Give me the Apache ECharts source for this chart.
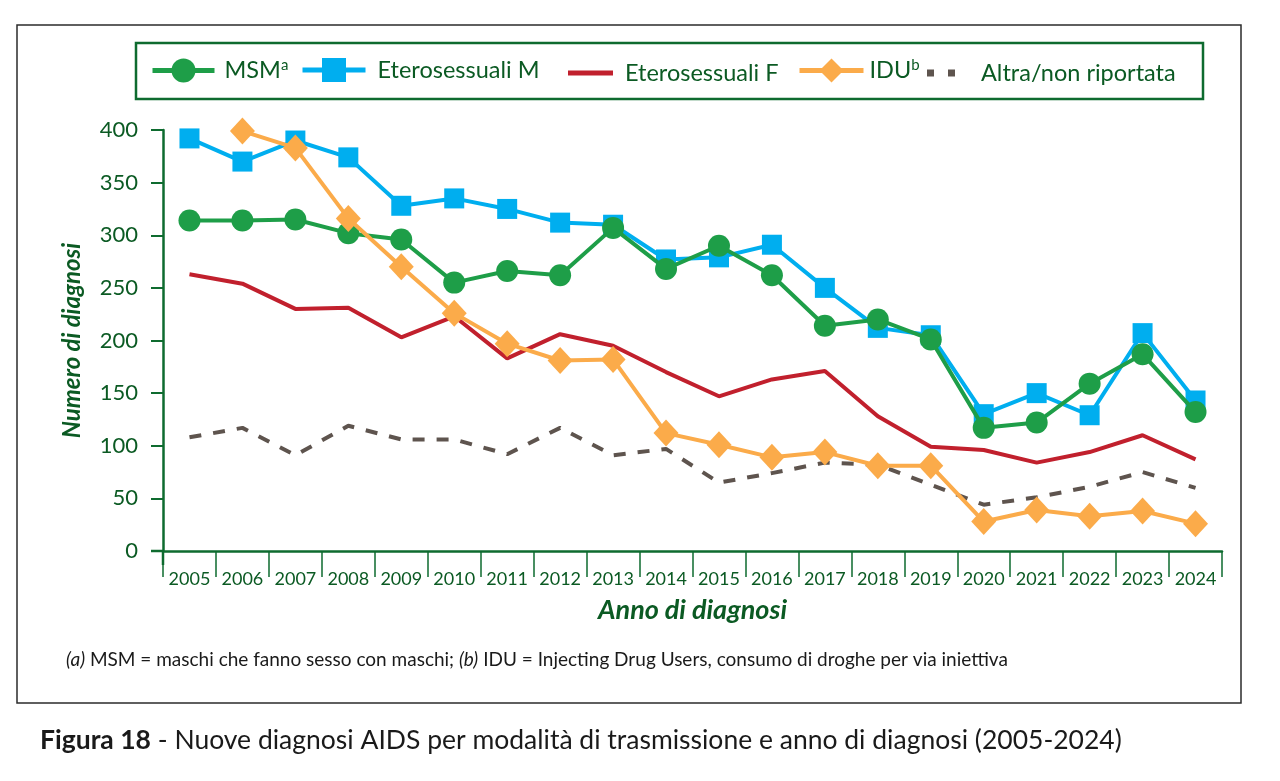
<!DOCTYPE html>
<html>
<head>
<meta charset="utf-8">
<script src="https://cdn.jsdelivr.net/npm/echarts@6/dist/echarts.min.js"></script>
<style>
html,body{margin:0;padding:0;background:#fff;}
#chart{width:1280px;height:781px;}
</style>
</head>
<body>
<div id="chart"></div>
<script>
const years = ['2005','2006','2007','2008','2009','2010','2011','2012','2013','2014','2015','2016','2017','2018','2019','2020','2021','2022','2023','2024'];
const msm = [314, 314, 315, 302, 296, 255, 266, 262, 307, 268, 290, 262, 214, 220, 201, 117, 122, 159, 187, 132];
const eteroM = [392, 370, 390, 374, 328, 335, 325, 312, 310, 277, 279, 291, 250, 212, 205, 130, 150, 129, 207, 143];
const eteroF = [263, 254, 230, 231, 203, 223, 183, 206, 195, 170, 147, 163, 171, 128, 99, 96, 84, 94, 110, 87];
const idu = [null, 399, 383, 316, 270, 226, 197, 181, 182, 112, 101, 89, 94, 81, 81, 28, 39, 33, 38, 26];
const altra = [108, 117, 91, 119, 106, 106, 92, 117, 91, 97, 65, 74, 84, 82, 63, 44, 51, 61, 75, 60];
const yTicks = [0, 50, 100, 150, 200, 250, 300, 350, 400];

const GREEN_TXT = '#0b5a23';
const AXIS = '#0e6b2f';
const C_MSM = '#1e9e48', C_M = '#00aeef', C_F = '#c1202d', C_IDU = '#fbab4a', C_ALT = '#5e544e';
const FONT = 'Lato, "Open Sans", sans-serif';

const chart = echarts.init(document.getElementById('chart'), null, {renderer: 'canvas'});

const legendBase = {
  top: 53, itemHeight: 30, orient: 'horizontal', selectedMode: false,
  lineStyle: {width: 5},
  textStyle: {fontFamily: FONT, fontSize: 23.5, color: GREEN_TXT,
    rich: {s: {fontFamily: FONT, fontSize: 15, color: GREEN_TXT, padding: [0, 0, 10, 0]}, n: {fontFamily: FONT, fontSize: 23.5, color: GREEN_TXT}}}
};
function leg(name, left, w, pad, extra, more) {
  const l = Object.assign({}, legendBase, {left: left - 5, itemWidth: w, data: [Object.assign({name: name}, extra || {})]}, more || {});
  l.textStyle = Object.assign({}, legendBase.textStyle, {padding: [0, 0, 0, pad]});
  return l;
}

const option = {
  animation: false,
  backgroundColor: '#fff',
  grid: {left: 163, right: 58, top: 130, bottom: 230, containLabel: false},
  legend: [
    leg('MSM', 150, 62, 5, null, {formatter: '{n|MSM}{s|a}'}),
    leg('Eterosessuali M', 300, 63, 7),
    leg('Eterosessuali F', 568, 45, 7, {icon: 'rect', itemStyle: {color: C_F}}, {itemHeight: 5, top: 56}),
    leg('IDU', 797, 64, 1, null, {formatter: '{n|IDU}{s|b}'}),
    leg('Altra/non riportata', 927, 42, 14, {icon: 'path://M0,0h8v8h-8z M24,0h8v8h-8z', itemStyle: {color: C_ALT}}, {itemHeight: 7, top: 56})
  ],
  xAxis: {
    type: 'category', data: years, boundaryGap: true,
    name: 'Anno di diagnosi', nameLocation: 'middle', nameGap: 46,
    nameTextStyle: {fontFamily: FONT, fontSize: 27, fontWeight: 'bold', fontStyle: 'italic', color: GREEN_TXT},
    axisLine: {lineStyle: {color: AXIS, width: 2.5}},
    axisTick: {show: true, interval: 0, length: 26, lineStyle: {color: AXIS, width: 1.5}},
    axisLabel: {interval: 0, fontFamily: FONT, fontSize: 18, color: GREEN_TXT, margin: 19},
    splitLine: {show: false}
  },
  yAxis: {
    type: 'value', min: 0, max: 400, interval: 50,
    name: 'Numero di diagnosi', nameLocation: 'middle', nameGap: 79, nameRotate: 90,
    nameTextStyle: {fontFamily: FONT, fontSize: 24, fontWeight: 'bold', fontStyle: 'italic', color: GREEN_TXT},
    axisLine: {show: true, lineStyle: {color: AXIS, width: 2.5}},
    axisTick: {show: true, length: 12, lineStyle: {color: AXIS, width: 2}},
    axisLabel: {fontFamily: FONT, fontSize: 22, color: GREEN_TXT, margin: 25,
      formatter: v => yTicks.indexOf(v) >= 0 ? String(v) : ''},
    splitLine: {show: false}
  },
  series: [
    {name: 'Altra/non riportata', type: 'line', data: altra, z: 2, showSymbol: false, symbol: 'none',
      lineStyle: {color: C_ALT, width: 4, type: [12, 12]}, itemStyle: {color: C_ALT}},
    {name: 'Eterosessuali F', type: 'line', data: eteroF, z: 3, showSymbol: false, symbol: 'none',
      lineStyle: {color: C_F, width: 4}, itemStyle: {color: C_F}},
    {name: 'Eterosessuali M', type: 'line', data: eteroM, z: 4, symbol: 'rect', symbolSize: 20,
      lineStyle: {color: C_M, width: 4}, itemStyle: {color: C_M}},
    {name: 'MSM', type: 'line', data: msm, z: 5, symbol: 'circle', symbolSize: 22,
      lineStyle: {color: C_MSM, width: 4}, itemStyle: {color: C_MSM}},
    {name: 'IDU', type: 'line', data: idu, z: 6, symbol: 'diamond', symbolSize: [25, 27],
      lineStyle: {color: C_IDU, width: 4}, itemStyle: {color: C_IDU}}
  ],
  graphic: [
    {id: 'frame', type: 'rect', shape: {x: 17, y: 25, width: 1224, height: 678}, style: {fill: 'none', stroke: '#2b2b2b', lineWidth: 1.5}, silent: true, z: -1},
    {id: 'legbox', type: 'rect', shape: {x: 136, y: 43, width: 1067, height: 56}, style: {fill: 'none', stroke: AXIS, lineWidth: 2.5}, silent: true, z: -1},
    {id: 'foot', type: 'text', left: 66, top: 650, style: {
      text: '{i|(a)} MSM = maschi che fanno sesso con maschi; {i|(b)} IDU = Injecting Drug Users, consumo di droghe per via iniettiva',
      fontFamily: FONT, fontSize: 19, fill: '#1a1a1a',
      rich: {i: {fontFamily: FONT, fontSize: 19, fontStyle: 'italic', color: GREEN_TXT}}}},
    {id: 'cap', type: 'text', left: 40, top: 727, style: {
      text: '{b|Figura 18} - Nuove diagnosi AIDS per modalità di trasmissione e anno di diagnosi (2005-2024)',
      fontFamily: FONT, fontSize: 26.5, fill: '#1a1a1a',
      rich: {b: {fontFamily: FONT, fontSize: 26.5, fontWeight: 'bold', color: GREEN_TXT}}}}
  ]
};
chart.setOption(option);

// axis overhang details (y axis continues below 0, x axis starts left of y axis)
const gridRect = chart.getModel().getComponent('grid', 0).coordinateSystem.getRect();
const yb = gridRect.y + gridRect.height;
chart.setOption({graphic: [
  {id: 'yover', type: 'line', shape: {x1: gridRect.x, y1: yb, x2: gridRect.x, y2: yb + 14}, style: {stroke: AXIS, lineWidth: 2.5}, silent: true},
  {id: 'xover', type: 'line', shape: {x1: gridRect.x - 12, y1: yb, x2: gridRect.x, y2: yb}, style: {stroke: AXIS, lineWidth: 2.5}, silent: true}
]});
</script>
</body>
</html>
